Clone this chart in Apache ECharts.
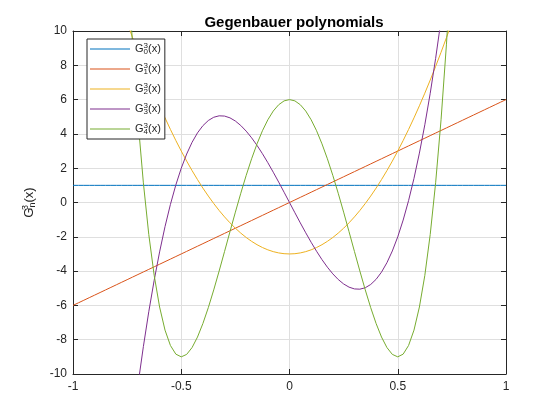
<!DOCTYPE html>
<html><head><meta charset="utf-8">
<script src="https://cdn.jsdelivr.net/npm/echarts@6/dist/echarts.min.js"></script>
<style>html,body{margin:0;padding:0;background:#fff}#c{width:560px;height:420px}</style>
</head><body><div id="c"></div>
<script>
const xs = [-1,-0.975,-0.95,-0.925,-0.9,-0.875,-0.85,-0.825,-0.8,-0.775,-0.75,-0.725,-0.7,-0.675,-0.65,-0.625,-0.6,-0.575,-0.55,-0.525,-0.5,-0.475,-0.45,-0.425,-0.4,-0.375,-0.35,-0.325,-0.3,-0.275,-0.25,-0.225,-0.2,-0.175,-0.15,-0.125,-0.1,-0.075,-0.05,-0.025,0,0.025,0.05,0.075,0.1,0.125,0.15,0.175,0.2,0.225,0.25,0.275,0.3,0.325,0.35,0.375,0.4,0.425,0.45,0.475,0.5,0.525,0.55,0.575,0.6,0.625,0.65,0.675,0.7,0.725,0.75,0.775,0.8,0.825,0.85,0.875,0.9,0.925,0.95,0.975,1];
const g0 = [1,1,1,1,1,1,1,1,1,1,1,1,1,1,1,1,1,1,1,1,1,1,1,1,1,1,1,1,1,1,1,1,1,1,1,1,1,1,1,1,1,1,1,1,1,1,1,1,1,1,1,1,1,1,1,1,1,1,1,1,1,1,1,1,1,1,1,1,1,1,1,1,1,1,1,1,1,1,1,1,1];
const g1 = [-6,-5.85,-5.7,-5.55,-5.4,-5.25,-5.1,-4.95,-4.8,-4.65,-4.5,-4.35,-4.2,-4.05,-3.9,-3.75,-3.6,-3.45,-3.3,-3.15,-3,-2.85,-2.7,-2.55,-2.4,-2.25,-2.1,-1.95,-1.8,-1.65,-1.5,-1.35,-1.2,-1.05,-0.9,-0.75,-0.6,-0.45,-0.3,-0.15,0,0.15,0.3,0.45,0.6,0.75,0.9,1.05,1.2,1.35,1.5,1.65,1.8,1.95,2.1,2.25,2.4,2.55,2.7,2.85,3,3.15,3.3,3.45,3.6,3.75,3.9,4.05,4.2,4.35,4.5,4.65,4.8,4.95,5.1,5.25,5.4,5.55,5.7,5.85,6];
const g2 = [21,19.815,18.66,17.535,16.44,15.375,14.34,13.335,12.36,11.415,10.5,9.615,8.76,7.935,7.14,6.375,5.64,4.935,4.26,3.615,3,2.415,1.86,1.335,0.84,0.375,-0.06,-0.465,-0.84,-1.185,-1.5,-1.785,-2.04,-2.265,-2.46,-2.625,-2.76,-2.865,-2.94,-2.985,-3,-2.985,-2.94,-2.865,-2.76,-2.625,-2.46,-2.265,-2.04,-1.785,-1.5,-1.185,-0.84,-0.465,-0.06,0.375,0.84,1.335,1.86,2.415,3,3.615,4.26,4.935,5.64,6.375,7.14,7.935,8.76,9.615,10.5,11.415,12.36,13.335,14.34,15.375,16.44,17.535,18.66,19.815,21];
const g3 = [-56,-50.749,-45.79,-41.116,-36.72,-32.594,-28.73,-25.121,-21.76,-18.639,-15.75,-13.086,-10.64,-8.404,-6.37,-4.531,-2.88,-1.409,-0.11,1.024,2,2.826,3.51,4.059,4.48,4.781,4.97,5.054,5.04,4.936,4.75,4.489,4.16,3.771,3.33,2.844,2.32,1.766,1.19,0.599,0,-0.599,-1.19,-1.766,-2.32,-2.844,-3.33,-3.771,-4.16,-4.489,-4.75,-4.936,-5.04,-5.054,-4.97,-4.781,-4.48,-4.059,-3.51,-2.826,-2,-1.024,0.11,1.409,2.88,4.531,6.37,8.404,10.64,13.086,15.75,18.639,21.76,25.121,28.73,32.594,36.72,41.116,45.79,50.749,56];
const g4 = [126,108.81,93.181,79.028,66.264,54.809,44.581,35.505,27.504,20.505,14.438,9.233,4.824,1.148,-1.859,-4.254,-6.096,-7.44,-8.338,-8.842,-9,-8.857,-8.459,-7.845,-7.056,-6.129,-5.098,-3.997,-2.856,-1.702,-0.5625,0.54,1.584,2.55,3.42,4.184,4.824,5.333,5.70,5.925,6,5.925,5.70,5.333,4.824,4.184,3.42,2.55,1.584,0.54,-0.5625,-1.702,-2.856,-3.997,-5.098,-6.129,-7.056,-7.845,-8.459,-8.857,-9,-8.842,-8.338,-7.44,-6.096,-4.254,-1.859,1.148,4.824,9.233,14.438,20.505,27.504,35.505,44.581,54.809,66.264,79.028,93.181,108.81,126];
const seriesNames = ['n0','n1','n2','n3','n4'];
const seriesIdx = ['0','1','2','3','4'];
const seriesData = [g0,g1,g2,g3,g4];
const colors = ['#0072BD','#D95319','#EDB120','#7E2F8E','#77AC30'];
const xTicks = {'-1':'-1','-0.5':'-0.5','0':'0','0.5':'0.5','1':'1'};

const font = "'Liberation Sans', Arial, sans-serif";
const ink = '#262626';
const chart = echarts.init(document.getElementById('c'));
const richLbl = {
  b: {fontSize: 11, fontFamily: font, color: ink, lineHeight: 14, verticalAlign: 'middle'},
  sup: {fontSize: 8, fontFamily: font, color: ink, width: 0, verticalAlign: 'top', lineHeight: 8},
  sub: {fontSize: 8, fontFamily: font, color: ink, verticalAlign: 'bottom', lineHeight: 8}
};
const axisCommon = {
  axisLine: {show: true, onZero: false, lineStyle: {color: ink, width: 1}},
  axisTick: {show: true, inside: true, length: 5, lineStyle: {color: ink}},
};
chart.setOption({
  animation: false,
  color: colors,
  title: {
    text: 'Gegenbauer polynomials', left: 289, top: 10, textAlign: 'center',
    textStyle: {fontFamily: font, fontSize: 15, fontWeight: 'bold', color: '#000'}
  },
  legend: {
    orient: 'vertical', left: 87, top: 39,
    padding: [3, 4, 3, 3], itemGap: 6, itemWidth: 40, itemHeight: 1, itemTextGap: 4,
    icon: 'rect',
    borderColor: ink, borderWidth: 1, backgroundColor: '#fff',
    data: seriesNames,
    formatter: function (name) {
      const i = seriesNames.indexOf(name);
      return '{b|G}{sup|3}{sub|' + seriesIdx[i] + '}{b|(x)}';
    },
    textStyle: {rich: richLbl}
  },
  grid: {left: 73, right: 54, top: 31, bottom: 46, containLabel: false},
  xAxis: [
    Object.assign({type: 'value', min: -1, max: 1, interval: 0.5, position: 'bottom',
      axisLabel: {fontFamily: font, fontSize: 12, color: ink, margin: 7,
        formatter: v => xTicks[String(v)] !== undefined ? xTicks[String(v)] : String(v)},
      splitLine: {show: true, lineStyle: {color: '#dfdfdf', width: 1}}}, axisCommon),
    Object.assign({type: 'value', min: -1, max: 1, interval: 0.5, position: 'top',
      axisLabel: {show: false}, splitLine: {show: false}}, axisCommon)
  ],
  yAxis: [
    Object.assign({type: 'value', min: -10, max: 10, interval: 2, position: 'left',
      axisLabel: {fontFamily: font, fontSize: 12, color: ink, margin: 6},
      splitLine: {show: true, lineStyle: {color: '#dfdfdf', width: 1}},
      name: '{b|G}{sup|3}{sub|n}{b|(x)}', nameLocation: 'middle', nameGap: 36, nameRotate: 90,
      nameTextStyle: {rich: {
        b: {fontSize: 13, fontFamily: font, color: ink, lineHeight: 16, verticalAlign: 'middle'},
        sup: {fontSize: 9, fontFamily: font, color: ink, width: 0, verticalAlign: 'top', lineHeight: 9},
        sub: {fontSize: 9, fontFamily: font, color: ink, verticalAlign: 'bottom', lineHeight: 9}
      }}}, axisCommon),
    Object.assign({type: 'value', min: -10, max: 10, interval: 2, position: 'right',
      axisLabel: {show: false}, splitLine: {show: false}}, axisCommon)
  ],
  series: seriesData.map((d, i) => ({
    name: seriesNames[i], type: 'line', xAxisIndex: 0, yAxisIndex: 0,
    data: xs.map((x, k) => [x, d[k]]),
    showSymbol: false, symbol: 'none', smooth: false, clip: true,
    lineStyle: {width: 1, color: colors[i]}, itemStyle: {color: colors[i]}
  }))
});
</script></body></html>
